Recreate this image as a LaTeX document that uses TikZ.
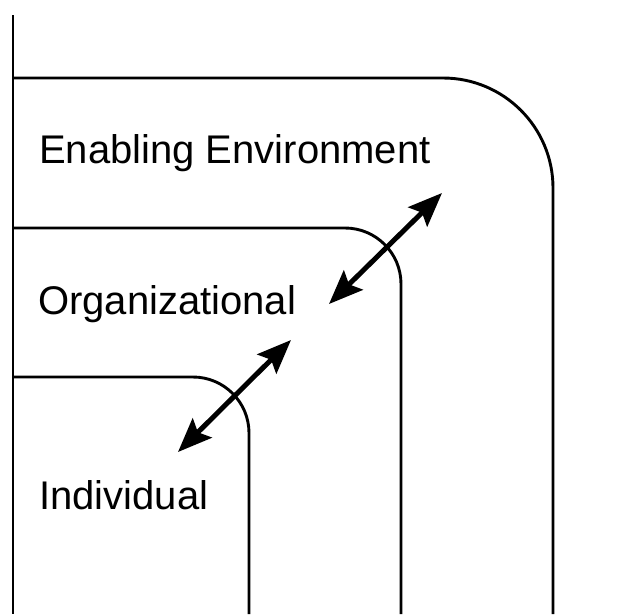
\documentclass[tikz,border=0pt]{standalone}
\usepackage{fontspec}
\setmainfont{Liberation Sans}
\usetikzlibrary{arrows.meta}

\newcommand{\lvlfont}{\fontsize{40}{48}\selectfont}
\newcommand{\lvln}{\node[anchor=base west, inner sep=0pt, font=\lvlfont]}
\newcommand{\ringln}{\draw[line width=2.9pt]}

\tikzset{
    tip/.tip={Stealth[length=34pt, width=27pt, inset=6pt]},
    dblarr/.style={tip-tip, line width=5pt}
}

\begin{document}
\begin{tikzpicture}[x=1pt, y=-1pt]
            \useasboundingbox (0,0) rectangle (617,614);

            % left edge
            \draw[line width=2.2pt] (13,15) -- (13,614);

            % the three levels
            \ringln[rounded corners=110pt] (13,78) -- (553,78) -- (553,614);
            \ringln[rounded corners=56pt] (13,228) -- (401,228) -- (401,614);
            \ringln[rounded corners=56pt] (13,377) -- (249,377) -- (249,614);

            \lvln (env) at (39,163) {Enabling Environment};
            \lvln (org) at (38,314) {Organizational};
            \lvln (ind) at (39,509) {Individual};

            \coordinate (envend) at (442,193);
            \coordinate (orgtop) at (329,304);
            \coordinate (orgbot) at (291,340);
            \coordinate (indend) at (178,452);

            \draw[dblarr]
                (orgtop) -- (envend);
            \draw[dblarr]
                (indend) -- (orgbot);

        \end{tikzpicture}
\end{document}
